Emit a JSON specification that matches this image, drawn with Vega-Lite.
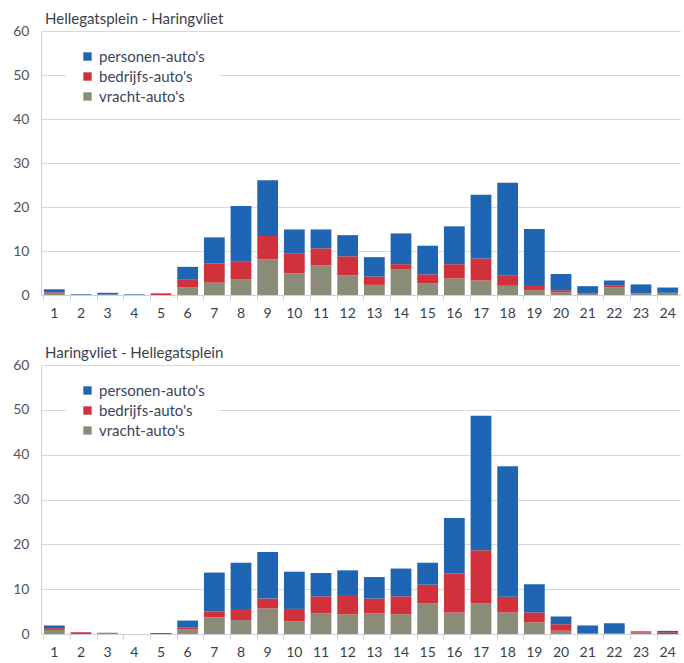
{
  "$schema": "https://vega.github.io/schema/vega-lite/v6.json",
  "padding": {"left": 12, "top": 12, "right": 0, "bottom": 0},
  "background": "white",
  "config": {
    "font": "Lato",
    "view": {"stroke": null},
    "title": {"anchor": "start", "fontSize": 15, "fontWeight": "normal", "color": "#3a3f4a", "offset": -3, "dx": 4, "frame": "group"},
    "axisY": {"domainColor": "#cfd0d8", "gridColor": "#d6d7e0", "ticks": false, "labelColor": "#555555", "labelFontSize": 14, "labelPadding": 12, "title": null, "values": [0, 10, 20, 30, 40, 50, 60]},
    "axisX": {"domainColor": "#cfd0d8", "tickColor": "#cfd0d8", "tickSize": 5, "bandPosition": 0, "labelColor": "#3a3f4a", "labelFontSize": 14, "labelPadding": 6, "labelAngle": 0, "title": null, "grid": false},
    "legend": {"labelFontSize": 15, "labelColor": "#3a4560", "symbolType": "square", "symbolSize": 70, "symbolStrokeWidth": 0, "rowPadding": 4, "fillColor": "white", "labelOffset": 4}
  },
  "spacing": 26,
  "resolve": {"legend": {"color": "independent"}},
  "datasets": {
    "traffic": [
      {"dir": "A", "hour": 1, "type": "vracht-auto's", "n": 0.3}, {"dir": "A", "hour": 1, "type": "bedrijfs-auto's", "n": 0.3}, {"dir": "A", "hour": 1, "type": "personen-auto's", "n": 0.7},
      {"dir": "A", "hour": 2, "type": "vracht-auto's", "n": 0.1}, {"dir": "A", "hour": 2, "type": "bedrijfs-auto's", "n": 0.0}, {"dir": "A", "hour": 2, "type": "personen-auto's", "n": 0.1},
      {"dir": "A", "hour": 3, "type": "vracht-auto's", "n": 0.1}, {"dir": "A", "hour": 3, "type": "bedrijfs-auto's", "n": 0.0}, {"dir": "A", "hour": 3, "type": "personen-auto's", "n": 0.4},
      {"dir": "A", "hour": 4, "type": "vracht-auto's", "n": 0.1}, {"dir": "A", "hour": 4, "type": "bedrijfs-auto's", "n": 0.0}, {"dir": "A", "hour": 4, "type": "personen-auto's", "n": 0.1},
      {"dir": "A", "hour": 5, "type": "vracht-auto's", "n": 0.0}, {"dir": "A", "hour": 5, "type": "bedrijfs-auto's", "n": 0.3}, {"dir": "A", "hour": 5, "type": "personen-auto's", "n": 0.1},
      {"dir": "A", "hour": 6, "type": "vracht-auto's", "n": 1.7}, {"dir": "A", "hour": 6, "type": "bedrijfs-auto's", "n": 1.9}, {"dir": "A", "hour": 6, "type": "personen-auto's", "n": 2.8},
      {"dir": "A", "hour": 7, "type": "vracht-auto's", "n": 2.8}, {"dir": "A", "hour": 7, "type": "bedrijfs-auto's", "n": 4.4}, {"dir": "A", "hour": 7, "type": "personen-auto's", "n": 5.9},
      {"dir": "A", "hour": 8, "type": "vracht-auto's", "n": 3.6}, {"dir": "A", "hour": 8, "type": "bedrijfs-auto's", "n": 4.1}, {"dir": "A", "hour": 8, "type": "personen-auto's", "n": 12.5},
      {"dir": "A", "hour": 9, "type": "vracht-auto's", "n": 8.1}, {"dir": "A", "hour": 9, "type": "bedrijfs-auto's", "n": 5.3}, {"dir": "A", "hour": 9, "type": "personen-auto's", "n": 12.7},
      {"dir": "A", "hour": 10, "type": "vracht-auto's", "n": 4.9}, {"dir": "A", "hour": 10, "type": "bedrijfs-auto's", "n": 4.6}, {"dir": "A", "hour": 10, "type": "personen-auto's", "n": 5.4},
      {"dir": "A", "hour": 11, "type": "vracht-auto's", "n": 6.7}, {"dir": "A", "hour": 11, "type": "bedrijfs-auto's", "n": 3.9}, {"dir": "A", "hour": 11, "type": "personen-auto's", "n": 4.3},
      {"dir": "A", "hour": 12, "type": "vracht-auto's", "n": 4.5}, {"dir": "A", "hour": 12, "type": "bedrijfs-auto's", "n": 4.3}, {"dir": "A", "hour": 12, "type": "personen-auto's", "n": 4.8},
      {"dir": "A", "hour": 13, "type": "vracht-auto's", "n": 2.3}, {"dir": "A", "hour": 13, "type": "bedrijfs-auto's", "n": 1.9}, {"dir": "A", "hour": 13, "type": "personen-auto's", "n": 4.4},
      {"dir": "A", "hour": 14, "type": "vracht-auto's", "n": 5.9}, {"dir": "A", "hour": 14, "type": "bedrijfs-auto's", "n": 1.1}, {"dir": "A", "hour": 14, "type": "personen-auto's", "n": 7.0},
      {"dir": "A", "hour": 15, "type": "vracht-auto's", "n": 2.6}, {"dir": "A", "hour": 15, "type": "bedrijfs-auto's", "n": 2.1}, {"dir": "A", "hour": 15, "type": "personen-auto's", "n": 6.5},
      {"dir": "A", "hour": 16, "type": "vracht-auto's", "n": 3.8}, {"dir": "A", "hour": 16, "type": "bedrijfs-auto's", "n": 3.2}, {"dir": "A", "hour": 16, "type": "personen-auto's", "n": 8.6},
      {"dir": "A", "hour": 17, "type": "vracht-auto's", "n": 3.3}, {"dir": "A", "hour": 17, "type": "bedrijfs-auto's", "n": 5.0}, {"dir": "A", "hour": 17, "type": "personen-auto's", "n": 14.5},
      {"dir": "A", "hour": 18, "type": "vracht-auto's", "n": 2.1}, {"dir": "A", "hour": 18, "type": "bedrijfs-auto's", "n": 2.4}, {"dir": "A", "hour": 18, "type": "personen-auto's", "n": 21.0},
      {"dir": "A", "hour": 19, "type": "vracht-auto's", "n": 1.1}, {"dir": "A", "hour": 19, "type": "bedrijfs-auto's", "n": 1.2}, {"dir": "A", "hour": 19, "type": "personen-auto's", "n": 12.7},
      {"dir": "A", "hour": 20, "type": "vracht-auto's", "n": 0.6}, {"dir": "A", "hour": 20, "type": "bedrijfs-auto's", "n": 0.5}, {"dir": "A", "hour": 20, "type": "personen-auto's", "n": 3.7},
      {"dir": "A", "hour": 21, "type": "vracht-auto's", "n": 0.3}, {"dir": "A", "hour": 21, "type": "bedrijfs-auto's", "n": 0.0}, {"dir": "A", "hour": 21, "type": "personen-auto's", "n": 1.7},
      {"dir": "A", "hour": 22, "type": "vracht-auto's", "n": 1.8}, {"dir": "A", "hour": 22, "type": "bedrijfs-auto's", "n": 0.3}, {"dir": "A", "hour": 22, "type": "personen-auto's", "n": 1.2},
      {"dir": "A", "hour": 23, "type": "vracht-auto's", "n": 0.4}, {"dir": "A", "hour": 23, "type": "bedrijfs-auto's", "n": 0.0}, {"dir": "A", "hour": 23, "type": "personen-auto's", "n": 2.0},
      {"dir": "A", "hour": 24, "type": "vracht-auto's", "n": 0.3}, {"dir": "A", "hour": 24, "type": "bedrijfs-auto's", "n": 0.2}, {"dir": "A", "hour": 24, "type": "personen-auto's", "n": 1.2},
      {"dir": "B", "hour": 1, "type": "vracht-auto's", "n": 0.9}, {"dir": "B", "hour": 1, "type": "bedrijfs-auto's", "n": 0.4}, {"dir": "B", "hour": 1, "type": "personen-auto's", "n": 0.6},
      {"dir": "B", "hour": 2, "type": "vracht-auto's", "n": 0.0}, {"dir": "B", "hour": 2, "type": "bedrijfs-auto's", "n": 0.4}, {"dir": "B", "hour": 2, "type": "personen-auto's", "n": 0.0},
      {"dir": "B", "hour": 3, "type": "vracht-auto's", "n": 0.3}, {"dir": "B", "hour": 3, "type": "bedrijfs-auto's", "n": 0.0}, {"dir": "B", "hour": 3, "type": "personen-auto's", "n": 0.0},
      {"dir": "B", "hour": 4, "type": "vracht-auto's", "n": 0.0}, {"dir": "B", "hour": 4, "type": "bedrijfs-auto's", "n": 0.0}, {"dir": "B", "hour": 4, "type": "personen-auto's", "n": 0.0},
      {"dir": "B", "hour": 5, "type": "vracht-auto's", "n": 0.0}, {"dir": "B", "hour": 5, "type": "bedrijfs-auto's", "n": 0.2}, {"dir": "B", "hour": 5, "type": "personen-auto's", "n": 0.0},
      {"dir": "B", "hour": 6, "type": "vracht-auto's", "n": 1.0}, {"dir": "B", "hour": 6, "type": "bedrijfs-auto's", "n": 0.5}, {"dir": "B", "hour": 6, "type": "personen-auto's", "n": 1.5},
      {"dir": "B", "hour": 7, "type": "vracht-auto's", "n": 3.7}, {"dir": "B", "hour": 7, "type": "bedrijfs-auto's", "n": 1.3}, {"dir": "B", "hour": 7, "type": "personen-auto's", "n": 8.7},
      {"dir": "B", "hour": 8, "type": "vracht-auto's", "n": 3.1}, {"dir": "B", "hour": 8, "type": "bedrijfs-auto's", "n": 2.5}, {"dir": "B", "hour": 8, "type": "personen-auto's", "n": 10.3},
      {"dir": "B", "hour": 9, "type": "vracht-auto's", "n": 5.7}, {"dir": "B", "hour": 9, "type": "bedrijfs-auto's", "n": 2.2}, {"dir": "B", "hour": 9, "type": "personen-auto's", "n": 10.4},
      {"dir": "B", "hour": 10, "type": "vracht-auto's", "n": 2.8}, {"dir": "B", "hour": 10, "type": "bedrijfs-auto's", "n": 2.8}, {"dir": "B", "hour": 10, "type": "personen-auto's", "n": 8.3},
      {"dir": "B", "hour": 11, "type": "vracht-auto's", "n": 4.6}, {"dir": "B", "hour": 11, "type": "bedrijfs-auto's", "n": 3.8}, {"dir": "B", "hour": 11, "type": "personen-auto's", "n": 5.2},
      {"dir": "B", "hour": 12, "type": "vracht-auto's", "n": 4.4}, {"dir": "B", "hour": 12, "type": "bedrijfs-auto's", "n": 4.3}, {"dir": "B", "hour": 12, "type": "personen-auto's", "n": 5.5},
      {"dir": "B", "hour": 13, "type": "vracht-auto's", "n": 4.6}, {"dir": "B", "hour": 13, "type": "bedrijfs-auto's", "n": 3.3}, {"dir": "B", "hour": 13, "type": "personen-auto's", "n": 4.8},
      {"dir": "B", "hour": 14, "type": "vracht-auto's", "n": 4.4}, {"dir": "B", "hour": 14, "type": "bedrijfs-auto's", "n": 4.0}, {"dir": "B", "hour": 14, "type": "personen-auto's", "n": 6.2},
      {"dir": "B", "hour": 15, "type": "vracht-auto's", "n": 6.8}, {"dir": "B", "hour": 15, "type": "bedrijfs-auto's", "n": 4.2}, {"dir": "B", "hour": 15, "type": "personen-auto's", "n": 4.9},
      {"dir": "B", "hour": 16, "type": "vracht-auto's", "n": 4.8}, {"dir": "B", "hour": 16, "type": "bedrijfs-auto's", "n": 8.7}, {"dir": "B", "hour": 16, "type": "personen-auto's", "n": 12.4},
      {"dir": "B", "hour": 17, "type": "vracht-auto's", "n": 6.8}, {"dir": "B", "hour": 17, "type": "bedrijfs-auto's", "n": 11.9}, {"dir": "B", "hour": 17, "type": "personen-auto's", "n": 30.0},
      {"dir": "B", "hour": 18, "type": "vracht-auto's", "n": 4.8}, {"dir": "B", "hour": 18, "type": "bedrijfs-auto's", "n": 3.5}, {"dir": "B", "hour": 18, "type": "personen-auto's", "n": 29.1},
      {"dir": "B", "hour": 19, "type": "vracht-auto's", "n": 2.6}, {"dir": "B", "hour": 19, "type": "bedrijfs-auto's", "n": 2.2}, {"dir": "B", "hour": 19, "type": "personen-auto's", "n": 6.3},
      {"dir": "B", "hour": 20, "type": "vracht-auto's", "n": 0.7}, {"dir": "B", "hour": 20, "type": "bedrijfs-auto's", "n": 1.5}, {"dir": "B", "hour": 20, "type": "personen-auto's", "n": 1.7},
      {"dir": "B", "hour": 21, "type": "vracht-auto's", "n": 0.2}, {"dir": "B", "hour": 21, "type": "bedrijfs-auto's", "n": 0.0}, {"dir": "B", "hour": 21, "type": "personen-auto's", "n": 1.7},
      {"dir": "B", "hour": 22, "type": "vracht-auto's", "n": 0.2}, {"dir": "B", "hour": 22, "type": "bedrijfs-auto's", "n": 0.0}, {"dir": "B", "hour": 22, "type": "personen-auto's", "n": 2.2},
      {"dir": "B", "hour": 23, "type": "vracht-auto's", "n": 0.3}, {"dir": "B", "hour": 23, "type": "bedrijfs-auto's", "n": 0.3}, {"dir": "B", "hour": 23, "type": "personen-auto's", "n": 0.0},
      {"dir": "B", "hour": 24, "type": "vracht-auto's", "n": 0.0}, {"dir": "B", "hour": 24, "type": "bedrijfs-auto's", "n": 0.4}, {"dir": "B", "hour": 24, "type": "personen-auto's", "n": 0.3}
    ]
  },
  "vconcat": [
    {
      "title": "Hellegatsplein - Haringvliet",
      "width": 640,
      "height": 264,
      "data": {"name": "traffic"},
      "transform": [
        {"filter": "datum.dir == 'A'"},
        {"calculate": "indexof([\"vracht-auto's\", \"bedrijfs-auto's\", \"personen-auto's\"], datum.type)", "as": "stackrank"}
      ],
      "mark": {"type": "bar"},
      "encoding": {
        "x": {"field": "hour", "type": "ordinal", "scale": {"paddingInner": 0.22, "paddingOuter": 0.11}},
        "y": {"field": "n", "type": "quantitative", "stack": "zero", "scale": {"domain": [0, 60], "nice": false}},
        "order": {"field": "stackrank", "type": "quantitative", "sort": "ascending"},
        "color": {
          "field": "type", "type": "nominal",
          "scale": {"domain": ["personen-auto's", "bedrijfs-auto's", "vracht-auto's"], "range": ["#1f65b3", "#d1313b", "#8b8c78"]},
          "legend": {"title": null, "orient": "none", "legendX": 25, "legendY": 4, "padding": 14}
        }
      }
    },
    {
      "title": "Haringvliet - Hellegatsplein",
      "width": 640,
      "height": 269,
      "data": {"name": "traffic"},
      "transform": [
        {"filter": "datum.dir == 'B'"},
        {"calculate": "indexof([\"vracht-auto's\", \"bedrijfs-auto's\", \"personen-auto's\"], datum.type)", "as": "stackrank"}
      ],
      "mark": {"type": "bar"},
      "encoding": {
        "x": {"field": "hour", "type": "ordinal", "scale": {"paddingInner": 0.22, "paddingOuter": 0.11}},
        "y": {"field": "n", "type": "quantitative", "stack": "zero", "scale": {"domain": [0, 60], "nice": false}},
        "order": {"field": "stackrank", "type": "quantitative", "sort": "ascending"},
        "color": {
          "field": "type", "type": "nominal",
          "scale": {"domain": ["personen-auto's", "bedrijfs-auto's", "vracht-auto's"], "range": ["#1f65b3", "#d1313b", "#8b8c78"]},
          "legend": {"title": null, "orient": "none", "legendX": 25, "legendY": 4, "padding": 14}
        }
      }
    }
  ]
}
